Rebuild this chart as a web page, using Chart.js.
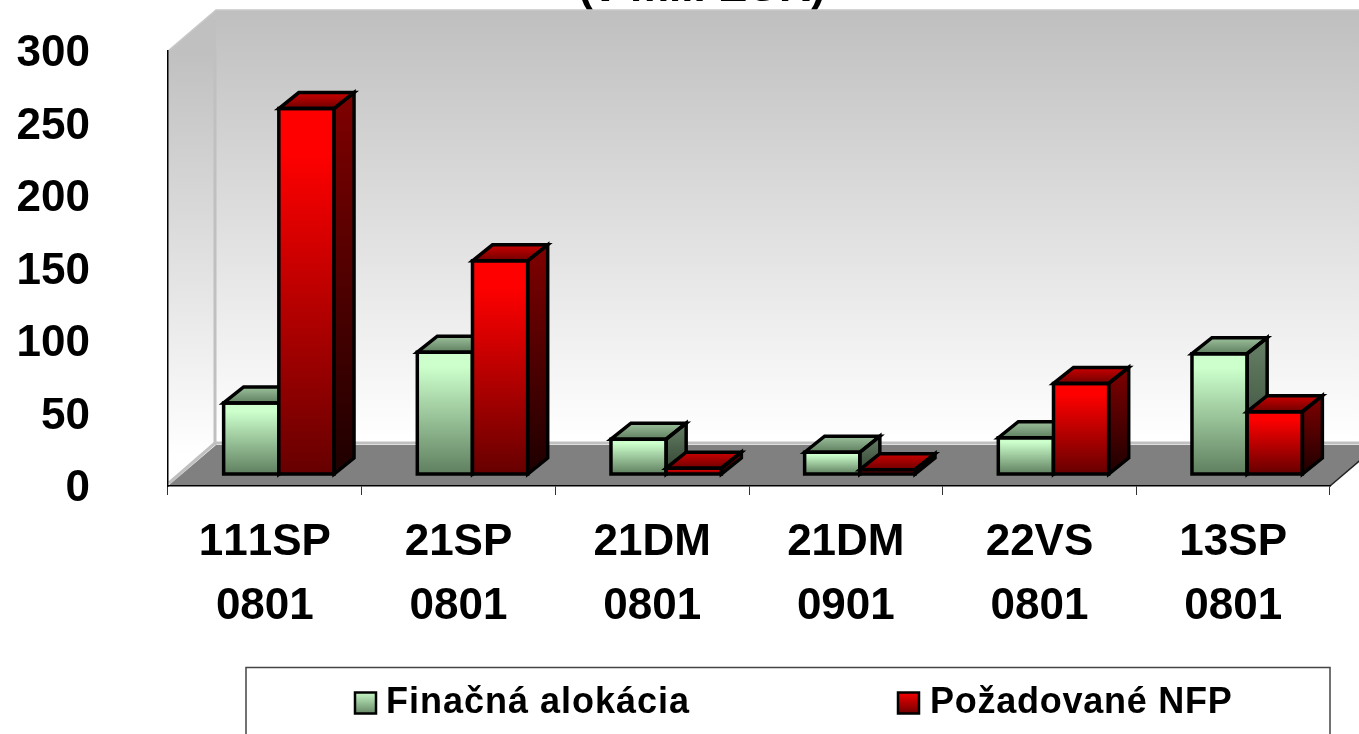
<!DOCTYPE html>
<html><head><meta charset="utf-8">
<style>html,body{margin:0;padding:0;background:#fff;overflow:hidden}#w{width:1359px;height:734px;position:relative}canvas{display:block}</style>
<script src="https://cdn.jsdelivr.net/npm/chart.js@4"></script>
</head><body><div id="w"><canvas id="c" width="1359" height="734"></canvas></div>
<script>
const categories = [['111SP','0801'],['21SP','0801'],['21DM','0801'],['21DM','0901'],['22VS','0801'],['13SP','0801']];
const financnaAlokacia = [49, 84, 24, 15, 25, 83];
const pozadovaneNFP = [252, 147, 4, 3, 62.5, 43];
const seriesNames = ['Finačná alokácia', 'Požadované NFP'];
const titleText = '(v mil. EUR)';

const FONT = 'Liberation Sans, Arial, sans-serif';
const WALL = {dx:48, dy:-41};            // depth of the 3D box
const BAR = {ox:14, oy:-12, dx:20, dy:-16}; // offset and depth of bars in the box
const PAL = [
  {front:['#ccffcc','#ccffcc','#5f7f5f'], side:['#668066','#2f402f'], top:['#9cc09c','#5f7f5f']},
  {front:['#ff0000','#ff0000','#660000'], side:['#800000','#1e0000'], top:['#cc0000','#700000']}
];
function grad(ctx,x0,y0,x1,y1,stops){
  const g=ctx.createLinearGradient(x0,y0,x1,y1);
  stops.forEach((s,i)=>g.addColorStop(stops.length>1?i/(stops.length-1):0,s));
  return g;
}
function frontFill(i){
  return c=>{
    if(c.type!=='data') return PAL[i].front[0];
    const s=c.chart.scales.y; if(!s) return PAL[i].front[0];
    const t=s.getPixelForValue(c.raw), b=s.getPixelForValue(0);
    if(!isFinite(t)||!isFinite(b)) return PAL[i].front[0];
    const g=c.chart.ctx.createLinearGradient(0,t,0,b);
    g.addColorStop(0,PAL[i].front[0]);g.addColorStop(0.12,PAL[i].front[1]);g.addColorStop(1,PAL[i].front[2]);
    return g;
  };
}
function poly(ctx,pts,fill,stroke){
  ctx.beginPath();pts.forEach((p,i)=>i?ctx.lineTo(p[0],p[1]):ctx.moveTo(p[0],p[1]));ctx.closePath();
  if(fill){ctx.fillStyle=fill;ctx.fill();}
  if(stroke){ctx.strokeStyle='#000';ctx.lineWidth=3.5;ctx.lineJoin='miter';ctx.stroke();}
}
const box3d={
  id:'box3d',
  beforeDraw(ch){
    const {ctx,chartArea:a}=ch, d=WALL;
    ctx.fontKerning='none';
    const rx=a.right+d.dx, by=a.bottom+d.dy, ty=a.top+d.dy, bx=a.left+d.dx;
    ctx.save();
    ctx.fillStyle='#000';ctx.font='bold 44px '+FONT;ctx.textAlign='center';ctx.textBaseline='alphabetic';
    ctx.fillText(titleText,702,0.5);
    // back wall, left wall
    poly(ctx,[[bx,ty],[rx,ty],[rx,by],[bx,by]],grad(ctx,0,ty,0,by-6,['#bfbfbf','#ffffff']));
    poly(ctx,[[a.left,a.top],[bx,ty],[bx,by],[a.left,a.bottom]],grad(ctx,0,a.top,0,a.bottom-30,['#c0c0c0','#ffffff']));
    ctx.lineWidth=1.5;ctx.strokeStyle='#c8c8c8';
    ctx.beginPath();ctx.moveTo(a.left,a.top);ctx.lineTo(bx,ty);ctx.lineTo(rx,ty);ctx.stroke();
    ctx.lineWidth=3;ctx.strokeStyle='#c0c0c0';
    ctx.beginPath();ctx.moveTo(bx-1,ty+40);ctx.lineTo(bx-1,by);ctx.stroke();
    // floor
    ctx.lineWidth=3;ctx.beginPath();ctx.moveTo(a.left+1,a.bottom-3);ctx.lineTo(bx-1,by-2);ctx.lineTo(rx,by-2);ctx.stroke();
    poly(ctx,[[a.left,a.bottom],[bx,by],[rx,by],[a.right,a.bottom]],'#808080');
    ctx.lineWidth=1.5;ctx.strokeStyle='#222';
    ctx.beginPath();ctx.moveTo(a.right,a.bottom);ctx.lineTo(rx,by);ctx.stroke();
    ctx.restore();
  },
  beforeDatasetDraw(){return false;},
  afterDatasetsDraw(ch){
    const ctx=ch.ctx;
    [0,1].forEach(i=>{
      const meta=ch.getDatasetMeta(i);
      ctx.save();ctx.translate(BAR.ox,BAR.oy);
      const D=BAR;
      meta.data.forEach(el=>{
        const l=el.x-el.width/2,r=el.x+el.width/2,t=el.y,b=el.base;
        poly(ctx,[[r,t],[r+D.dx,t+D.dy],[r+D.dx,b+D.dy],[r,b]],grad(ctx,0,t+D.dy,0,b,PAL[i].side));
        poly(ctx,[[l,t],[l+D.dx,t+D.dy],[r+D.dx,t+D.dy],[r,t]],grad(ctx,0,t+D.dy,0,t,PAL[i].top));
      });
      meta.controller.draw();
      meta.data.forEach(el=>{
        const l=el.x-el.width/2,r=el.x+el.width/2,t=el.y,b=el.base;
        poly(ctx,[[r,t],[r+D.dx,t+D.dy],[r+D.dx,b+D.dy],[r,b]],null,true);
        poly(ctx,[[l,t],[l+D.dx,t+D.dy],[r+D.dx,t+D.dy],[r,t]],null,true);
        poly(ctx,[[l,t],[r,t],[r,b],[l,b]],null,true);
      });
      ctx.restore();
    });
  },
  afterDraw(ch){
    const ctx=ch.ctx;
    ctx.save();
    ctx.strokeStyle='#444';ctx.lineWidth=1.5;
    ctx.strokeRect(246,667.5,1084,100);
    const items=[{mx:355,tx:386,ls:'1px',i:0},{mx:898,tx:930,ls:'0.75px',i:1}];
    items.forEach(o=>{
      const g=grad(ctx,0,691,0,715,[PAL[o.i].front[0],PAL[o.i].front[2]]);
      ctx.fillStyle=g;ctx.fillRect(o.mx,692.5,21,21);
      ctx.strokeStyle='#000';ctx.lineWidth=2.5;ctx.strokeRect(o.mx,692.5,21,21);
      ctx.fillStyle='#000';ctx.font='bold 36px '+FONT;ctx.textAlign='left';ctx.textBaseline='alphabetic';
      ctx.letterSpacing=o.ls;
      ctx.fillText(seriesNames[o.i],o.tx,713);
      ctx.letterSpacing='0px';
    });
    ctx.restore();
  }
};
const cv=document.getElementById('c');
new Chart(cv,{
  type:'bar',
  data:{labels:categories,datasets:[
    {label:seriesNames[0],data:financnaAlokacia,backgroundColor:frontFill(0),borderWidth:0,clip:false},
    {label:seriesNames[1],data:pozadovaneNFP,backgroundColor:frontFill(1),borderWidth:0,clip:false}
  ]},
  options:{
    responsive:false,animation:false,
    categoryPercentage:0.57,barPercentage:1,
    layout:{padding:{top:51,right:29,left:0,bottom:0}},
    plugins:{legend:{display:false},title:{display:false},tooltip:{enabled:false}},
    scales:{
      x:{
        grid:{display:true,drawOnChartArea:false,drawTicks:true,tickLength:9,color:'#333',offset:true},
        border:{display:true,color:'#000',width:1.5},
        ticks:{color:'#000',maxRotation:0,autoSkip:false,padding:16,font:{family:FONT,size:44,weight:'bold',lineHeight:1.4545}},
        afterFit(s){s.height=248;s.paddingLeft=0;s.paddingRight=0;}
      },
      y:{
        min:0,max:300,
        grid:{display:false},
        border:{display:true,color:'#000',width:1.5},
        ticks:{stepSize:50,color:'#000',padding:70,labelOffset:3,font:{family:FONT,size:44,weight:'bold'}},
        afterFit(s){s.width=168;s.paddingTop=0;s.paddingBottom=0;}
      }
    }
  },
  plugins:[box3d]
});
</script></body></html>
